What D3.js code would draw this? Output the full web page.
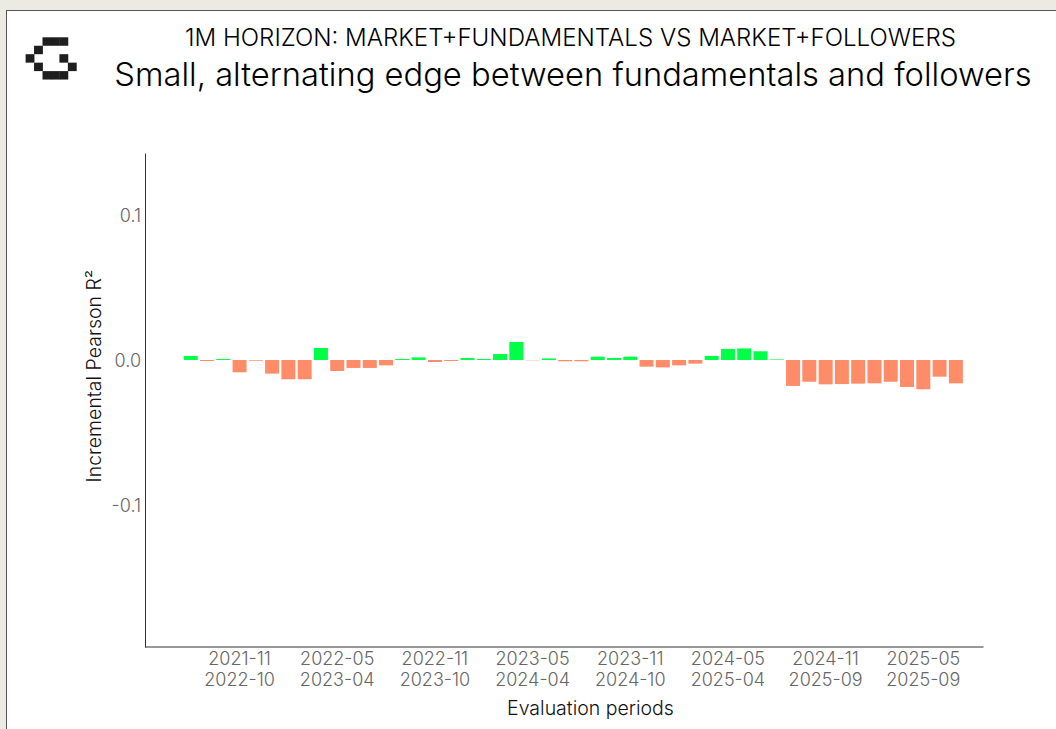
<!DOCTYPE html>
<html><head><meta charset="utf-8">
<script src="https://cdnjs.cloudflare.com/ajax/libs/d3/7.8.5/d3.min.js"></script>
<style>
html,body{margin:0;padding:0;background:#ebebe4;}
svg{display:block;}
text{font-family:Inter,"Noto Sans",sans-serif;}
</style></head><body>
<div id="chart"></div>
<script>
const periods = [
"2021-08","2021-09","2021-10","2021-11","2021-12","2022-01","2022-02","2022-03","2022-04","2022-05","2022-06","2022-07",
"2022-08","2022-09","2022-10","2022-11","2022-12","2023-01","2023-02","2023-03","2023-04","2023-05","2023-06","2023-07",
"2023-08","2023-09","2023-10","2023-11","2023-12","2024-01","2024-02","2024-03","2024-04","2024-05","2024-06","2024-07",
"2024-08","2024-09","2024-10","2024-11","2024-12","2025-01","2025-02","2025-03","2025-04","2025-05","2025-06","2025-07"];
const values = [
0.0028,-0.0007,0.0007,-0.0085,-0.0005,-0.0094,-0.0133,-0.0133,0.0083,-0.0076,-0.0055,-0.0055,
-0.0037,0.0007,0.0018,-0.0014,-0.0007,0.0014,0.0007,0.0041,0.0124,-0.0002,0.0011,-0.0009,
-0.0009,0.0023,0.0014,0.0023,-0.0046,-0.0051,-0.0037,-0.0025,0.0028,0.0076,0.0080,0.0060,
0.0004,-0.0179,-0.0150,-0.0168,-0.0166,-0.0163,-0.0161,-0.0150,-0.0186,-0.0202,-0.0115,-0.0161];
const tickStarts = ["2021-11","2022-05","2022-11","2023-05","2023-11","2024-05","2024-11","2025-05"];
const tickEnds   = ["2022-10","2023-04","2023-10","2024-04","2024-10","2025-04","2025-09","2025-09"];
const yTicks = [0.1,0,-0.1];
const logoCells = [[2,0],[3,0],[4,0],[1,1],[0,2],[4,2],[1,3],[5,3],[2,4],[3,4],[4,4]];
const supTitle = "1M HORIZON: MARKET+FUNDAMENTALS VS MARKET+FOLLOWERS";
const title = "Small, alternating edge between fundamentals and followers";
const xTitle = "Evaluation periods";
const yTitle = "Incremental Pearson R²";

const W=1056,H=729;
const svg=d3.select("#chart").append("svg").attr("width",W).attr("height",H);
svg.append("rect").attr("width",W).attr("height",H).attr("fill","#ebebe4");
svg.append("rect").attr("x",6.5).attr("y",10.5).attr("width",W).attr("height",H).attr("fill","#fff").attr("stroke","#555").attr("stroke-width",1);

const logo=d3.scaleLinear().domain([0,1]).range([0,8.45]);
svg.append("g").attr("transform","translate(25.6,37.3)").selectAll("rect").data(logoCells).join("rect")
 .attr("x",d=>logo(d[0])).attr("y",d=>logo(d[1])).attr("width",logo(1)+.4).attr("height",logo(1)).attr("fill","#1e1e1e");

const x=d3.scaleBand().domain(periods).range([182.56,964]).paddingInner(0.14).paddingOuter(0.07);
const y=d3.scaleLinear().domain([-0.198,0.1428]).range([647,153]);

svg.append("g").selectAll("rect").data(values).join("rect")
 .attr("x",(d,i)=>x(periods[i])).attr("width",x.bandwidth())
 .attr("y",d=>y(Math.max(d,0))).attr("height",d=>Math.abs(y(d)-y(0)))
 .attr("fill",d=>d>=0?"#00ff47":"#ff8c69");

const gy=svg.append("g").attr("transform","translate(145,0)")
 .call(d3.axisLeft(y).tickValues(yTicks).tickFormat(d=>d3.format(".1f")(d).replace("−","-")).tickSize(0).tickPadding(4));
gy.select(".domain").attr("stroke","#333").attr("stroke-width",1);
gy.selectAll("text").attr("fill","#666").attr("font-size",18).attr("font-weight",300).attr("y",1);

const gx=svg.append("g").attr("transform","translate(0,647)")
 .call(d3.axisBottom(x).tickValues(tickStarts).tickFormat("").tickSize(0).tickPadding(0));
gx.select(".domain").remove();
gx.selectAll(".tick text").each(function(d,i){
  const t=d3.select(this).attr("fill","#666").attr("font-size",18).attr("font-weight",300).attr("y",0).attr("dy",null);
  t.append("tspan").attr("x",0).attr("y",17.5).text(tickStarts[i]);
  t.append("tspan").attr("x",0).attr("y",39).text(tickEnds[i]);
});
svg.append("line").attr("x1",145).attr("x2",983.5).attr("y1",647).attr("y2",647).attr("stroke","#333");

svg.append("text").attr("x",570.5).attr("y",46).attr("text-anchor","middle").attr("font-size",24.1).attr("font-weight",300).attr("fill","#000").text(supTitle);
svg.append("text").attr("x",573).attr("y",86).attr("text-anchor","middle").attr("font-size",32.7).attr("font-weight",300).attr("fill","#000").text(title);
svg.append("text").attr("x",590.5).attr("y",715).attr("text-anchor","middle").attr("font-size",19.5).attr("font-weight",300).attr("fill","#111").text(xTitle);
svg.append("text").attr("transform","translate(101,376) rotate(-90)").attr("text-anchor","middle").attr("font-size",19.5).attr("font-weight",300).attr("fill","#111").text(yTitle);
</script></body></html>
